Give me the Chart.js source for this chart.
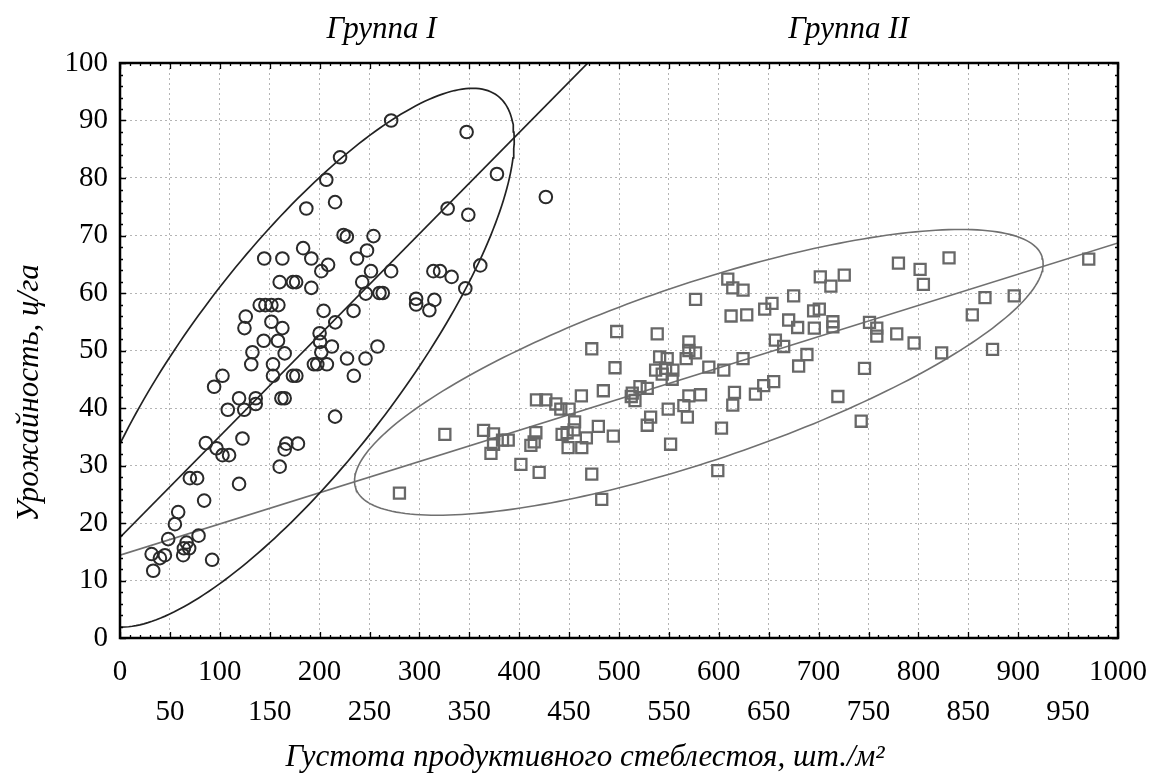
<!DOCTYPE html>
<html lang="ru">
<head>
<meta charset="utf-8">
<title>Урожайность и густота стеблестоя</title>
<script src="https://cdn.jsdelivr.net/npm/chart.js@4.4.1/dist/chart.umd.min.js"></script>
<style>
  html, body { margin: 0; padding: 0; background: #fff; }
</style>
</head>
<body>
<canvas id="grafico" width="1149" height="776"></canvas>
<script>
// Группа I (кружки): густота, шт./м2 и урожайность, ц/га
const groupIX = [271.7, 220.5, 206.7, 186.7, 215.5, 224, 227.3, 254, 183.5, 247.5,
  144.5, 162.7, 191.7, 208.5, 237.5, 201.7, 251.5, 271.7, 160, 173.3,
  176.5, 191.7, 242.7, 246.3, 260, 263.3, 296.7, 296.7, 140, 145.7,
  151.7, 158.7, 204, 126, 124.7, 151.7, 162.7, 215.7, 234, 200,
  144, 158.3, 200.5, 132.7, 165, 201.7, 212.3, 258, 227.5, 246,
  131.5, 153.3, 194.3, 197.7, 207.3, 102.7, 153.3, 173.3, 176.7, 234.3,
  94.3, 119.3, 136, 136, 161.7, 165, 108, 124.5, 215.5, 122.7,
  86, 96.7, 102.7, 109.3, 166.7, 165, 178.3, 160, 119.3, 70,
  77.3, 84.3, 58.3, 55, 48.3, 78.7, 66.7, 64, 69.3, 63.3,
  31.7, 40, 45, 33.3, 92.3, 314, 320.7, 332.3, 361, 346,
  315, 310, 347.3, 377.7, 426.7, 328.3, 349];
const groupIY = [90.0, 83.6, 79.7, 74.7, 75.8, 70.1, 69.8, 69.9, 67.8, 67.4,
  66.0, 66.0, 66.0, 64.9, 66.0, 63.8, 63.8, 63.8, 61.9, 61.9,
  61.9, 60.9, 61.9, 59.9, 60.0, 60.0, 59.0, 58.0, 57.9, 57.9,
  57.9, 57.9, 56.9, 55.9, 53.9, 55.0, 53.9, 54.9, 56.9, 53.0,
  51.7, 51.7, 51.5, 49.7, 49.5, 49.7, 50.7, 50.7, 48.6, 48.6,
  47.6, 47.6, 47.6, 47.6, 47.6, 45.6, 45.6, 45.6, 45.6, 45.6,
  43.7, 41.7, 41.7, 40.7, 41.7, 41.7, 39.7, 39.7, 38.5, 34.7,
  33.9, 33.0, 31.8, 31.8, 33.8, 32.8, 33.8, 29.8, 26.8, 27.8,
  27.8, 23.9, 21.9, 19.8, 17.2, 17.8, 16.6, 15.6, 15.6, 14.4,
  14.6, 13.9, 14.4, 11.7, 13.6, 63.8, 63.8, 62.8, 64.8, 60.8,
  58.8, 57.0, 88.0, 80.7, 76.7, 74.7, 73.6];

// Группа II (квадраты)
const groupIIX = [280, 325.5, 364.3, 374.3, 374.3, 371.7, 383.3, 389, 401.7, 411.7,
  415, 416.7, 420, 417.3, 426.7, 436.7, 441.7, 450, 462.3, 443,
  448, 455, 455.5, 449, 462.7, 467.3, 479.3, 472.7, 482.7, 494.3,
  484.3, 472.7, 497.7, 496, 538.3, 512.3, 516, 513.3, 521, 528.3,
  531.7, 528.3, 540.7, 548.3, 536.7, 543.3, 554, 553.3, 546.7, 549.3,
  551.7, 570, 570, 576.7, 567.3, 570, 581.7, 565, 568.5, 576.7,
  590, 605, 624.3, 615.7, 614, 602.7, 599, 609, 614, 624.3,
  612.3, 628, 646, 653.3, 656.7, 636.7, 645, 655, 970.7, 830.7,
  801.7, 805, 780, 725.7, 701.7, 712.3, 675, 695, 700.7, 670,
  679, 695.7, 714.3, 714.3, 665, 688.3, 680, 751, 758.3, 758.3,
  778.3, 795.7, 823.3, 746, 719.3, 742.7, 854, 866.7, 896, 874.3];
const groupIIY = [25.2, 35.4, 36.1, 35.5, 33.7, 32.1, 34.4, 34.4, 30.2, 33.5,
  34.1, 35.7, 28.8, 41.4, 41.4, 40.7, 39.8, 39.8, 42.1, 35.4,
  35.7, 36.2, 37.6, 33.1, 33.1, 34.8, 36.8, 28.5, 24.1, 35.1,
  43.0, 50.3, 53.3, 47.0, 52.9, 42.0, 41.3, 42.6, 43.7, 43.4,
  38.4, 37.0, 48.9, 48.6, 46.6, 45.9, 46.6, 45.0, 46.9, 39.8,
  33.7, 51.5, 50.0, 49.6, 48.6, 42.1, 42.3, 40.4, 38.4, 58.9,
  47.1, 46.6, 48.6, 42.7, 40.5, 36.5, 29.1, 62.4, 60.9, 60.5,
  56.0, 56.2, 57.2, 58.2, 51.8, 42.4, 43.9, 44.6, 65.9, 66.1,
  64.1, 61.5, 65.2, 63.1, 62.8, 61.2, 59.5, 56.9, 57.2, 55.3,
  54.0, 53.9, 55.0, 54.1, 50.7, 49.3, 47.3, 54.9, 53.9, 52.5,
  52.9, 51.3, 49.6, 46.9, 42.0, 37.7, 56.2, 59.2, 59.5, 50.2];

// Линии регрессии: [свободный член, наклон]
const fitI = [17.5, 0.176];
const fitII = [14.4, 0.0543];

// Эллипсы: центр, полуоси по x и y, коэффициент корреляции
const ellipseI = { cx: 177.6, cy: 48.75, sx: 217.4, sy: 46.85, r: 0.808 };
const ellipseII = { cx: 580, cy: 46.2, sx: 345, sy: 24.85, r: 0.76 };

const groupTitles = ['Группа I', 'Группа II'];
const xTitle = 'Густота продуктивного стеблестоя, шт./м²';
const yTitle = 'Урожайность, ц/га';

const xRange = [0, 1000];
const yRange = [0, 100];

function toPoints(xs, ys) {
  return xs.map((x, i) => ({ x: x, y: ys[i] }));
}

function fitLine(fit) {
  return xRange.map(x => ({ x: x, y: fit[0] + fit[1] * x }));
}

function ellipsePoints(e) {
  const pts = [];
  const k = Math.sqrt(1 - e.r * e.r);
  for (let i = 0; i <= 240; i++) {
    const t = 2 * Math.PI * i / 240;
    pts.push({
      x: e.cx + e.sx * Math.cos(t),
      y: e.cy + e.sy * (e.r * Math.cos(t) + k * Math.sin(t))
    });
  }
  return pts;
}

const serif = 'Liberation Serif, Times New Roman, serif';

// рамка, засечки внутрь и подписи
const ramka = {
  id: 'ramka',
  afterDraw(chart) {
    const { ctx, chartArea: a, scales: { x, y } } = chart;
    ctx.save();
    ctx.strokeStyle = '#000';
    ctx.lineWidth = 1.3;
    ctx.beginPath();
    for (let v = xRange[0]; v <= xRange[1]; v += 10) {
      const px = Math.round(x.getPixelForValue(v)) + 0.5;
      const len = v % 50 === 0 ? 6 : 3;
      ctx.moveTo(px, a.bottom); ctx.lineTo(px, a.bottom - len);
      ctx.moveTo(px, a.top); ctx.lineTo(px, a.top + len);
    }
    for (let v = yRange[0]; v <= yRange[1]; v += 2) {
      const py = Math.round(y.getPixelForValue(v)) + 0.5;
      const len = v % 10 === 0 ? 6 : 3;
      ctx.moveTo(a.left, py); ctx.lineTo(a.left + len, py);
      ctx.moveTo(a.right, py); ctx.lineTo(a.right - len, py);
    }
    ctx.stroke();
    ctx.lineWidth = 2.5;
    ctx.strokeRect(a.left, a.top, a.right - a.left, a.bottom - a.top);

    ctx.fillStyle = '#000';
    ctx.font = 'italic 31px ' + serif;
    ctx.textAlign = 'center';
    ctx.textBaseline = 'middle';
    ctx.fillText(groupTitles[0], x.getPixelForValue(262), 30);
    ctx.fillText(groupTitles[1], x.getPixelForValue(730), 30);

    ctx.fillText(xTitle, 585, 758);
    ctx.translate(30, 393);
    ctx.rotate(-Math.PI / 2);
    ctx.fillText(yTitle, 0, 0);
    ctx.restore();
  }
};

function criarGrafico() {
  const ctx = document.getElementById('grafico').getContext('2d');
  new Chart(ctx, {
    type: 'scatter',
    data: {
      datasets: [
        {
          label: 'Группа I',
          data: toPoints(groupIX, groupIY),
          pointStyle: 'circle',
          pointRadius: 6.3,
          pointBorderWidth: 2,
          pointBorderColor: '#2a2a2a',
          pointBackgroundColor: 'rgba(0,0,0,0)'
        },
        {
          label: 'Группа II',
          data: toPoints(groupIIX, groupIIY),
          pointStyle: 'rect',
          pointRadius: 7.8,
          pointBorderWidth: 2.3,
          pointBorderColor: '#686868',
          pointBackgroundColor: 'rgba(0,0,0,0)'
        },
        {
          data: fitLine(fitI), showLine: true, pointRadius: 0,
          borderColor: '#222', borderWidth: 1.7
        },
        {
          data: ellipsePoints(ellipseI), showLine: true, pointRadius: 0,
          borderColor: '#222', borderWidth: 1.7
        },
        {
          data: fitLine(fitII), showLine: true, pointRadius: 0,
          borderColor: '#707070', borderWidth: 1.6
        },
        {
          data: ellipsePoints(ellipseII), showLine: true, pointRadius: 0,
          borderColor: '#707070', borderWidth: 1.6
        }
      ]
    },
    options: {
      responsive: false,
      animation: false,
      devicePixelRatio: 1,
      layout: { padding: { left: 0, right: 31, top: 63, bottom: 0 } },
      plugins: { legend: { display: false }, tooltip: { enabled: false } },
      scales: {
        x: {
          type: 'linear',
          min: xRange[0], max: xRange[1],
          afterFit: s => { s.height = 138; s.paddingLeft = 0; s.paddingRight = 0; },
          grid: { color: '#b4b4b4', lineWidth: 1, drawTicks: false },
          border: { display: false, dash: [2, 3] },
          ticks: {
            stepSize: 50, maxTicksLimit: 30, autoSkip: false,
            minRotation: 0, maxRotation: 0, padding: 14, color: '#000',
            font: { family: serif, size: 29, lineHeight: 1.38 },
            callback: v => v % 100 === 0 ? String(v) : ['', String(v)]
          }
        },
        y: {
          type: 'linear',
          min: yRange[0], max: yRange[1],
          afterFit: s => { s.width = 120; s.paddingTop = 0; s.paddingBottom = 0; },
          grid: { color: '#b4b4b4', lineWidth: 1, drawTicks: false },
          border: { display: false, dash: [2, 3] },
          ticks: {
            stepSize: 10, maxTicksLimit: 20, padding: 12, color: '#000',
            font: { family: serif, size: 29 }
          }
        }
      }
    },
    plugins: [ramka]
  });
}

criarGrafico();
</script>
</body>
</html>
